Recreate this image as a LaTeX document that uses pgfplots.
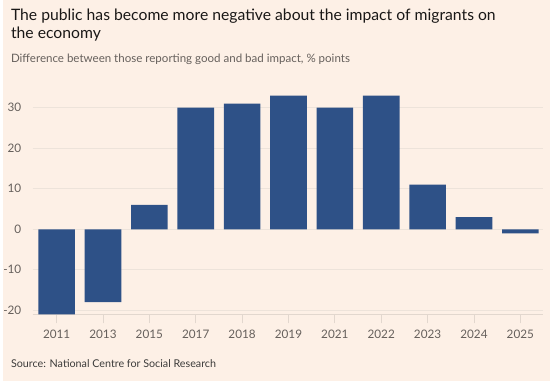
\documentclass[border=0pt]{standalone}
\usepackage{pgfplots}
\pgfplotsset{compat=1.18}
\usepackage{fontspec}
\setmainfont{Lato}
\definecolor{bg}{HTML}{FDF0E6}
\definecolor{bar}{HTML}{2E5187}
\definecolor{grid}{HTML}{EDE3DA}
\definecolor{axisc}{HTML}{E2D7CE}
\definecolor{ticktext}{HTML}{66605C}
\definecolor{titletext}{HTML}{1A1817}
\begin{document}
\begin{tikzpicture}
\fill[bg] (0,0) rectangle (550bp,383bp);
\node[anchor=base west, inner sep=0, font=\fontsize{15.8bp}{20bp}\selectfont, text=titletext] at (8bp,362bp) {The public has become more negative about the impact of migrants on};
\node[anchor=base west, inner sep=0, font=\fontsize{15.8bp}{20bp}\selectfont, text=titletext] at (8bp,344bp) {the economy};
\node[anchor=base west, inner sep=0, font=\fontsize{11.6bp}{14bp}\selectfont, text=ticktext] at (8bp,320bp) {Difference between those reporting good and bad impact, \% points};
\node[anchor=base west, inner sep=0, font=\fontsize{10.8bp}{13bp}\selectfont, text=titletext!85] at (8bp,14bp) {Source: National Centre for Social Research};
\begin{axis}[
  at={(30bp,67bp)}, anchor=south west,
  scale only axis, width=513bp, height=224bp,
  xmin=-0.515, xmax=10.49, ymin=-21, ymax=34,
  ybar, bar width=0.79, bar shift=0pt,
  xtick={0,...,10},
  xticklabels={2011,2013,2015,2017,2018,2019,2021,2022,2023,2024,2025},
  ytick={-20,-10,0,10,20,30},
  yticklabels={-20,-10,0,10,20,30},
  axis x line*=bottom, axis y line*=left,
  y axis line style={draw=none},
  x axis line style={draw=axisc, line width=0.8bp, -},
  ytick style={draw=none},
  xtick style={draw=axisc, line width=0.8bp},
  tick align=outside, major tick length=9bp,
  ymajorgrids, grid style={draw=grid, line width=0.8bp},
  ticklabel style={font=\fontsize{11.8bp}{14bp}\selectfont, text=ticktext},
  xticklabel style={yshift=-3bp},
  yticklabel style={xshift=1bp},
  clip=false,
]
\addplot[fill=bar, draw=none] coordinates {
(0,-21) (1,-18) (2,6) (3,30) (4,31) (5,33) (6,30) (7,33) (8,11) (9,3) (10,-1)
};
\end{axis}
\end{tikzpicture}
\end{document}
